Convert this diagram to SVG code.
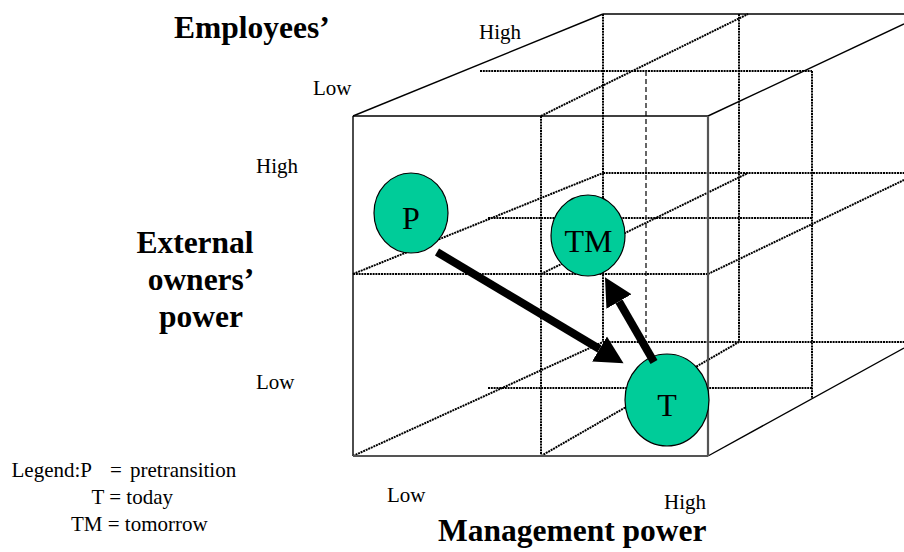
<svg xmlns="http://www.w3.org/2000/svg" width="904" height="552" viewBox="0 0 904 552">
  <style>
    text { font-family: "Liberation Serif", "Times New Roman", serif; fill: #000; }
    .title { font-size: 31.5px; font-weight: bold; }
    .axis { font-size: 21px; }
    .legend { font-size: 21px; }
    .node-label { font-size: 32px; text-anchor: middle; }
    .edge { stroke: #000; stroke-width: 1.4; fill: none; }
    .edge-grey { stroke: #555; stroke-width: 2.2; fill: none; }
    .grid { stroke: #000; stroke-width: 2; stroke-dasharray: 2 0.8; fill: none; }
    .hidden { stroke: #333; stroke-width: 1.5; stroke-dasharray: 5 3; fill: none; }
    .node { fill: #00CC99; stroke: #000; stroke-width: 1.2; }
    .shaft { stroke: #000; stroke-width: 8; fill: none; }
  </style>
  <defs>
    <marker id="head" markerUnits="userSpaceOnUse" markerWidth="30" markerHeight="32" refX="0" refY="15" orient="auto" viewBox="0 0 30 32">
      <path d="M0,0.5 L28,15 L0,29.5 Z" fill="#000"/>
    </marker>
  </defs>

  <rect width="904" height="552" fill="#fff"/>

  <!-- 2x2x2 power cube: grid lines behind the solid outline -->
  <g id="cube">
    <!-- back face -->
    <line class="grid" x1="603" y1="14" x2="603" y2="342"/>
    <line class="grid" x1="739" y1="14" x2="739" y2="342"/>
    <line class="grid" x1="603" y1="173" x2="904" y2="173"/>
    <line class="grid" x1="603" y1="342" x2="904" y2="342"/>
    <!-- middle depth slice -->
    <line class="grid" x1="480" y1="71" x2="812" y2="71"/>
    <line class="grid" x1="488" y1="218" x2="812" y2="218"/>
    <line class="grid" x1="488" y1="388" x2="812" y2="388"/>
    <line class="grid" x1="812" y1="71" x2="812" y2="398"/>
    <line class="hidden" x1="646" y1="71" x2="646" y2="338"/>
    <!-- depth lines -->
    <line class="grid" x1="541" y1="116" x2="748" y2="14"/>
    <line class="grid" x1="353" y1="274" x2="603" y2="173"/>
    <line class="grid" x1="541" y1="274" x2="748" y2="173"/>
    <line class="grid" x1="708" y1="274" x2="904" y2="180"/>
    <line class="grid" x1="353" y1="456" x2="603" y2="342"/>
    <line class="grid" x1="541" y1="456" x2="739" y2="342"/>
    <!-- front face dividers -->
    <line class="grid" x1="541" y1="116" x2="541" y2="456"/>
    <line class="grid" x1="353" y1="274" x2="708" y2="274"/>
    <!-- solid outline -->
    <line class="edge" x1="603" y1="14" x2="904" y2="14"/>
    <line class="edge" x1="353" y1="116" x2="603" y2="14"/>
    <line class="edge" x1="708" y1="116" x2="904" y2="24"/>
    <line class="edge" x1="708" y1="456" x2="904" y2="348"/>
    <line class="edge" x1="353" y1="116" x2="708" y2="116"/>
    <line class="edge" x1="353" y1="116" x2="353" y2="456"/>
    <line class="edge-grey" x1="708" y1="116" x2="708" y2="456"/>
    <line class="edge-grey" x1="353" y1="456" x2="708" y2="456"/>
  </g>

  <!-- positions -->
  <g id="node-P">
    <ellipse class="node" cx="411" cy="213" rx="37" ry="40"/>
    <text class="node-label" x="411" y="229">P</text>
  </g>
  <g id="node-TM">
    <ellipse class="node" cx="588" cy="235.5" rx="37" ry="40.5"/>
    <text class="node-label" x="588.5" y="251.5">TM</text>
  </g>
  <g id="node-T">
    <ellipse class="node" cx="667" cy="400" rx="42" ry="46"/>
    <text class="node-label" x="667" y="416">T</text>
  </g>

  <!-- transitions -->
  <g id="connectors">
    <line class="shaft" x1="437" y1="252" x2="599.5" y2="349" marker-end="url(#head)"/>
    <line class="shaft" x1="654" y1="362" x2="619" y2="301.5" marker-end="url(#head)"/>
  </g>

  <!-- axis titles -->
  <g id="labels">
    <text class="title" x="174" y="38">Employees’</text>
    <text class="title" x="195" y="253" text-anchor="middle">External</text>
    <text class="title" x="201" y="290" text-anchor="middle">owners’</text>
    <text class="title" x="201" y="327" text-anchor="middle">power</text>
    <text class="title" x="438" y="541">Management power</text>

    <text class="axis" x="479" y="39">High</text>
    <text class="axis" x="313" y="95">Low</text>
    <text class="axis" x="256" y="173">High</text>
    <text class="axis" x="256" y="389">Low</text>
    <text class="axis" x="387" y="502">Low</text>
    <text class="axis" x="664" y="509">High</text>
  </g>

  <g id="legend" class="legend">
    <text x="11.5" y="477">Legend:P</text>
    <text x="110" y="477">=</text>
    <text x="130" y="477">pretransition</text>
    <text x="91.5" y="503.5">T = today</text>
    <text x="71" y="531">TM = tomorrow</text>
  </g>
</svg>
